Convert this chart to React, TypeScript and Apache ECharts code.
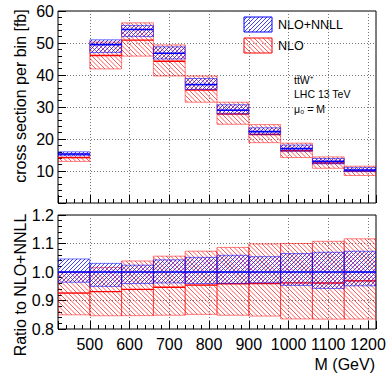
import React, { useEffect, useRef } from 'react';
import * as echarts from 'echarts';

// Bin edges in M (GeV)
const binEdges = [420, 500, 580, 660, 740, 820, 900, 980, 1060, 1140, 1220];
// NLO+NNLL (fb per bin)
const nnllCentral = [15.3, 49.5, 54.2, 46.8, 37.0, 29.0, 22.3, 17.0, 13.0, 10.3];
const nnllUp = [16.0, 51.0, 55.5, 48.8, 38.9, 30.7, 23.5, 18.1, 13.9, 11.05];
const nnllDown = [14.75, 47.0, 52.0, 45.0, 35.5, 27.85, 21.45, 16.2, 12.25, 9.8];
// NLO (fb per bin)
const nloCentral = [14.17, 46.1, 50.9, 44.3, 35.3, 27.8, 21.4, 16.35, 12.5, 9.98];
const nloUp = [15.3, 50.3, 56.3, 49.4, 39.7, 31.5, 24.5, 18.7, 14.4, 11.5];
const nloDown = [13.0, 41.9, 45.9, 39.7, 31.5, 24.6, 18.85, 14.2, 10.85, 8.6];

const FONT = 'Liberation Sans, Arial, Helvetica, sans-serif';

type Style = {
  hatch: string;
  hatchWidth: number;
  spacing: number;
  dir: number;
  border: string;
  center: string;
  centerWidth: number;
};

const blueStyle: Style = {
  hatch: 'rgba(20,20,255,0.9)',
  hatchWidth: 0.9,
  spacing: 4,
  dir: 1,
  border: 'rgba(0,0,255,0.55)',
  center: '#0000ff',
  centerWidth: 1.6,
};
const redStyle: Style = {
  hatch: 'rgba(255,0,0,0.72)',
  hatchWidth: 0.9,
  spacing: 4.5,
  dir: -1,
  border: 'rgba(255,0,0,0.5)',
  center: '#ff0000',
  centerWidth: 1.4,
};

function hatchSegs(x0: number, y0: number, x1: number, y1: number, s: number, dir: number) {
  const segs: number[][] = [];
  if (dir > 0) {
    const kmin = x0 + y0, kmax = x1 + y1;
    for (let k = Math.ceil(kmin / s) * s; k <= kmax; k += s) {
      const xa = Math.max(x0, k - y1), xb = Math.min(x1, k - y0);
      if (xb > xa) segs.push([xa, k - xa, xb, k - xb]);
    }
  } else {
    const kmin = x0 - y1, kmax = x1 - y0;
    for (let k = Math.ceil(kmin / s) * s; k <= kmax; k += s) {
      const xa = Math.max(x0, k + y0), xb = Math.min(x1, k + y1);
      if (xb > xa) segs.push([xa, xa - k, xb, xb - k]);
    }
  }
  return segs;
}

function hatchedBox(x0: number, y0: number, x1: number, y1: number, st: Style) {
  const children: any[] = [];
  hatchSegs(x0, y0, x1, y1, st.spacing, st.dir).forEach((g) => {
    children.push({
      type: 'line',
      shape: { x1: g[0], y1: g[1], x2: g[2], y2: g[3] },
      style: { stroke: st.hatch, lineWidth: st.hatchWidth },
      silent: true,
    });
  });
  children.push({
    type: 'rect',
    shape: { x: x0, y: y0, width: x1 - x0, height: y1 - y0 },
    style: { fill: 'none', stroke: st.border, lineWidth: 1 },
    silent: true,
  });
  return children;
}

function bandSeries(name: string, data: number[][], gi: number, st: Style) {
  return {
    type: 'custom',
    name,
    xAxisIndex: gi,
    yAxisIndex: gi,
    clip: true,
    encode: { x: [0, 1], y: [2, 3, 4] },
    data,
    renderItem: (_params: any, api: any) => {
      const a = api.coord([api.value(0), api.value(3)]);
      const b = api.coord([api.value(1), api.value(2)]);
      const c = api.coord([api.value(1), api.value(4)]);
      const children = hatchedBox(a[0], a[1], b[0], b[1], st);
      children.push({
        type: 'line',
        shape: { x1: a[0], y1: c[1], x2: b[0], y2: c[1] },
        style: { stroke: st.center, lineWidth: st.centerWidth },
        silent: true,
      });
      return { type: 'group', children };
    },
  };
}

function buildData(central: number[], up: number[], down: number[], ref: number[] | null) {
  return central.map((v, i) => {
    const r = ref ? ref[i] : 1;
    return [binEdges[i], binEdges[i + 1], down[i] / r, up[i] / r, v / r];
  });
}

function xAxisCfg(gi: number, labels: boolean) {
  return {
    type: 'value',
    gridIndex: gi,
    min: binEdges[0],
    max: binEdges[binEdges.length - 1],
    splitNumber: 8,
    axisLine: { show: false },
    axisTick: { show: true, inside: true, length: 8, lineStyle: { color: '#000', width: 1 } },
    minorTick: { show: true, splitNumber: 5, length: 4, lineStyle: { color: '#000', width: 1 } },
    minorSplitLine: { show: false },
    splitLine: { show: true, lineStyle: { type: [1, 2], color: '#777', width: 1 } },
    axisLabel: {
      show: labels,
      fontSize: 16,
      fontFamily: FONT,
      color: '#000',
      margin: 7,
      formatter: (v: number) => (Math.abs(v % 100) < 1e-6 ? String(v) : ''),
    },
  };
}

function yAxisCfg(gi: number, min: number, max: number, interval: number, fmt: (v: number) => string) {
  return {
    type: 'value',
    gridIndex: gi,
    min,
    max,
    interval,
    axisLine: { show: false },
    axisTick: { show: true, inside: true, length: 8, lineStyle: { color: '#000', width: 1 } },
    minorTick: { show: true, splitNumber: 5, length: 4, lineStyle: { color: '#000', width: 1 } },
    splitLine: { show: true, lineStyle: { type: [1, 2], color: '#777', width: 1 } },
    axisLabel: { fontSize: 16, fontFamily: FONT, color: '#000', margin: 4, formatter: fmt },
  };
}

function legendGraphic() {
  const items: any[] = [];
  const boxes = [
    { y0: 17, y1: 32, st: blueStyle, label: 'NLO+NNLL' },
    { y0: 38, y1: 53, st: redStyle, label: 'NLO' },
  ];
  boxes.forEach((b) => {
    items.push({ type: 'group', children: hatchedBox(244, b.y0, 272, b.y1, { ...b.st, border: b.st.center }) });
    items.push({
      type: 'text',
      x: 278,
      y: (b.y0 + b.y1) / 2,
      style: { text: b.label, fontSize: 12.5, fontFamily: FONT, fill: '#000', textVerticalAlign: 'middle' },
    });
  });
  return items;
}

export default function App() {
  const ref = useRef<HTMLDivElement>(null);
  useEffect(() => {
    if (!ref.current) return;
    const chart = echarts.init(ref.current, null, { renderer: 'svg' });
    const option: any = {
      animation: false,
      backgroundColor: '#fff',
      textStyle: { fontFamily: FONT },
      grid: [
        { left: 58, right: 16, top: 11, height: 192, show: true, borderColor: '#000', borderWidth: 1, backgroundColor: 'transparent' },
        { left: 58, right: 16, top: 215, height: 114, show: true, borderColor: '#000', borderWidth: 1, backgroundColor: 'transparent' },
      ],
      xAxis: [xAxisCfg(0, false), xAxisCfg(1, true)],
      yAxis: [
        yAxisCfg(0, 0, 60, 10, (v: number) => (v === 0 ? '' : String(v))),
        yAxisCfg(1, 0.8, 1.2, 0.1, (v: number) => v.toFixed(1)),
      ],
      series: [
        bandSeries('NLO', buildData(nloCentral, nloUp, nloDown, null), 0, redStyle),
        bandSeries('NLO+NNLL', buildData(nnllCentral, nnllUp, nnllDown, null), 0, blueStyle),
        bandSeries('NLO ratio', buildData(nloCentral, nloUp, nloDown, nnllCentral), 1, redStyle),
        bandSeries('NLO+NNLL ratio', buildData(nnllCentral, nnllUp, nnllDown, nnllCentral), 1, blueStyle),
      ],
      graphic: [
        ...legendGraphic(),
        {
          type: 'text', x: 294, y: 80,
          style: { text: 'tt\u0304W\u207A', fontSize: 10.5, fontFamily: FONT, fill: '#000', textVerticalAlign: 'middle' },
        },
        {
          type: 'text', x: 294, y: 94,
          style: { text: 'LHC 13 TeV', fontSize: 10.5, fontFamily: FONT, fill: '#000', textVerticalAlign: 'middle' },
        },
        {
          type: 'text', x: 294, y: 109,
          style: { text: '\u03BC\u2080 = M', fontSize: 10.5, fontFamily: FONT, fill: '#000', textVerticalAlign: 'middle' },
        },
        {
          type: 'text', x: 20, y: 96, rotation: Math.PI / 2,
          style: { text: 'cross section per bin [fb]', fontSize: 16, fontFamily: FONT, fill: '#000', textAlign: 'center', textVerticalAlign: 'middle' },
        },
        {
          type: 'text', x: 20, y: 285, rotation: Math.PI / 2,
          style: { text: 'Ratio to NLO+NNLL', fontSize: 16, fontFamily: FONT, fill: '#000', textAlign: 'center', textVerticalAlign: 'middle' },
        },
        {
          type: 'text', x: 375, y: 364,
          style: { text: 'M (GeV)', fontSize: 16, fontFamily: FONT, fill: '#000', textAlign: 'right', textVerticalAlign: 'middle' },
        },
      ],
    };
    chart.setOption(option);
    return () => chart.dispose();
  }, []);
  return <div ref={ref} style={{ position: 'absolute', left: 0, top: 0, width: 392, height: 381 }} />;
}
